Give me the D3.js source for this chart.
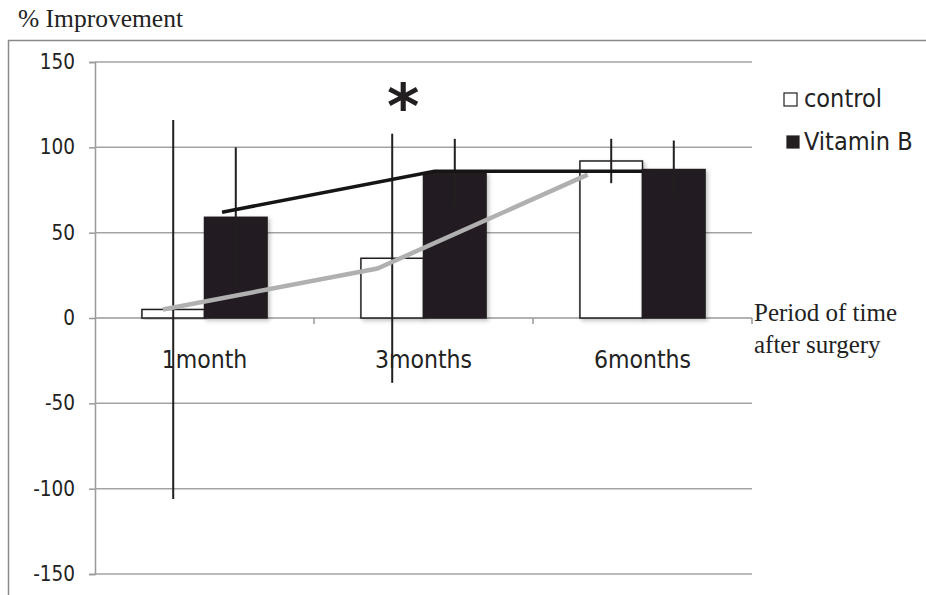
<!DOCTYPE html>
<html>
<head>
<meta charset="utf-8">
<script src="https://cdn.jsdelivr.net/npm/d3@7"></script>
<style>
  body { margin: 0; background: #fff; }
  svg { display: block; }
  .tick-label { font-family: "DejaVu Sans Condensed", "DejaVu Sans", sans-serif; fill: #222; }
  .serif { font-family: "Liberation Serif", "Times New Roman", serif; fill: #222; }
</style>
</head>
<body>
<div id="chart"></div>
<script>
// Data
const categories = ["1month", "3months", "6months"];
const series = ["control", "Vitamin B"];
const controlValues = [5, 35, 92];
const controlErrors = [111, 73, 13];
const vitaminValues = [59, 85, 87];
const vitaminErrors = [41, 20, 17];
const yTicks = [150, 100, 50, 0, -50, -100, -150];
// hand-drawn trend lines: [position along category axis (0..3), value]
const vitaminTrend = [[0.58, 62], [1.55, 86], [2.5, 86]];
const controlTrend = [[0.31, 5], [1.29, 29], [2.25, 84]];

const W = 926, H = 595;
const margin = { top: 62, right: 174, bottom: 21, left: 95 };
const width = W - margin.left - margin.right;
const height = H - margin.top - margin.bottom;

const root = d3.select("#chart").append("svg")
    .attr("width", W)
    .attr("height", H);

const defs = root.append("defs");
const shadow = defs.append("filter").attr("id", "shadow")
    .attr("x", "-20%").attr("y", "-20%").attr("width", "140%").attr("height", "140%");
shadow.append("feDropShadow")
    .attr("dx", 2).attr("dy", 2).attr("stdDeviation", 2)
    .attr("flood-color", "#000").attr("flood-opacity", 0.25);

// outer frame (partially cropped)
root.append("path")
    .attr("d", `M8.5,${H} L8.5,40.5 L${W},40.5`)
    .attr("fill", "none")
    .attr("stroke", "#8a8a8a")
    .attr("stroke-width", 1.5);

// title
root.append("text")
    .attr("class", "serif")
    .attr("x", 18)
    .attr("y", 27)
    .style("font-size", "25.5px")
    .text("% Improvement");

const svg = root.append("g")
    .attr("transform", `translate(${margin.left},${margin.top})`);

// Scales
const y = d3.scaleLinear().domain([-150, 150]).range([height, 0]);
const x0 = d3.scaleBand().domain(categories).range([0, width]).padding(0);
const bw = x0.bandwidth();
const gap = bw * 0.75 / 3.5;
const x1 = d3.scaleBand().domain(series).range([gap, bw - gap]).padding(0);
const xPos = d3.scaleLinear().domain([0, 3]).range([0, width]);

// Gridlines + Y axis
const yAxis = svg.append("g")
    .call(d3.axisLeft(y).tickValues(yTicks).tickFormat(d => String(d)).tickSize(6).tickPadding(14));
yAxis.select(".domain").attr("stroke", "#999").attr("stroke-width", 1.5);
yAxis.selectAll(".tick line").attr("stroke", "#999").attr("stroke-width", 1.5);
yAxis.selectAll(".tick text")
    .attr("class", "tick-label")
    .style("font-size", "20.5px");

svg.append("g")
    .selectAll("line")
    .data(yTicks.filter(d => d !== 0))
    .enter()
    .append("line")
    .attr("x1", 0)
    .attr("x2", width)
    .attr("y1", d => y(d))
    .attr("y2", d => y(d))
    .attr("stroke", "#a3a3a3")
    .attr("stroke-width", 1.5);

// X axis at zero, ticks at category boundaries
const xAxisG = svg.append("g").attr("transform", `translate(0,${y(0)})`);
xAxisG.append("line")
    .attr("x1", 0).attr("x2", width)
    .attr("stroke", "#999").attr("stroke-width", 1.5);
xAxisG.selectAll(".xtick")
    .data(categories)
    .enter()
    .append("line")
    .attr("x1", d => x0(d) + bw)
    .attr("x2", d => x0(d) + bw)
    .attr("y1", 0)
    .attr("y2", 6)
    .attr("stroke", "#999").attr("stroke-width", 1.5);

// Bars
const rows = categories.map((c, i) => ({
    cat: c,
    bars: [
        { key: "control", value: controlValues[i], err: controlErrors[i] },
        { key: "Vitamin B", value: vitaminValues[i], err: vitaminErrors[i] }
    ]
}));

const groups = svg.selectAll(".group")
    .data(rows)
    .enter()
    .append("g")
    .attr("class", "group")
    .attr("transform", d => `translate(${x0(d.cat)},0)`);

groups.selectAll("rect")
    .data(d => d.bars)
    .enter()
    .append("rect")
    .attr("x", d => x1(d.key))
    .attr("y", d => y(Math.max(0, d.value)))
    .attr("width", x1.bandwidth())
    .attr("height", d => Math.abs(y(d.value) - y(0)))
    .attr("fill", d => d.key === "control" ? "#fff" : "#231f20")
    .attr("stroke", "#231f20")
    .attr("stroke-width", 1.5)
    .attr("filter", "url(#shadow)");

// Category labels
svg.append("g")
    .selectAll("text")
    .data(categories)
    .enter()
    .append("text")
    .attr("class", "tick-label")
    .attr("x", d => x0(d) + bw / 2)
    .attr("y", y(0) + 50)
    .attr("text-anchor", "middle")
    .style("font-size", "24.5px")
    .text(d => d);

// Trend lines
const line = d3.line()
    .x(d => xPos(d[0]))
    .y(d => y(d[1]));

svg.append("path")
    .datum(controlTrend)
    .attr("d", line)
    .attr("fill", "none")
    .attr("stroke", "#b0b0b0")
    .attr("stroke-width", 4.5)
    .attr("stroke-linejoin", "round");

svg.append("path")
    .datum(vitaminTrend)
    .attr("d", line)
    .attr("fill", "none")
    .attr("stroke", "#151515")
    .attr("stroke-width", 3.5);

// Error bars (no caps)
groups.selectAll(".err")
    .data(d => d.bars)
    .enter()
    .append("line")
    .attr("class", "err")
    .attr("x1", d => x1(d.key) + x1.bandwidth() / 2)
    .attr("x2", d => x1(d.key) + x1.bandwidth() / 2)
    .attr("y1", d => y(d.value + d.err))
    .attr("y2", d => y(d.value - d.err))
    .attr("stroke", "#231f20")
    .attr("stroke-width", 2);

// significance mark
svg.append("text")
    .attr("x", x0("3months") + x1("control") + x1.bandwidth() / 2 + 11)
    .attr("y", y(108) - 6)
    .attr("text-anchor", "middle")
    .style("font-family", "DejaVu Sans, sans-serif")
    .style("font-weight", "bold")
    .style("font-size", "62px")
    .attr("fill", "#231f20")
    .text("*");

// Axis caption on the right
const cap = svg.append("text")
    .attr("class", "serif")
    .attr("x", width + 2)
    .attr("y", y(0) + 3)
    .style("font-size", "25px");
cap.append("tspan").attr("x", width + 2).text("Period of time");
cap.append("tspan").attr("x", width + 2).attr("dy", 32).text("after surgery");

// Legend
const legend = root.append("g").attr("transform", "translate(784,0)");
const legendRows = [
    { key: "control", fill: "#fff", y: 93, size: 13 },
    { key: "Vitamin B", fill: "#231f20", y: 136, size: 12 }
];
legend.selectAll("rect")
    .data(legendRows)
    .enter()
    .append("rect")
    .attr("x", d => d.key === "control" ? 0 : 3)
    .attr("y", d => d.y)
    .attr("width", d => d.size)
    .attr("height", d => d.size)
    .attr("fill", d => d.fill)
    .attr("stroke", "#231f20")
    .attr("stroke-width", 1.2);
legend.selectAll("text")
    .data(legendRows)
    .enter()
    .append("text")
    .attr("class", "tick-label")
    .attr("x", 20)
    .attr("y", d => d.y + 14)
    .style("font-size", "25px")
    .text(d => d.key);
</script>
</body>
</html>
